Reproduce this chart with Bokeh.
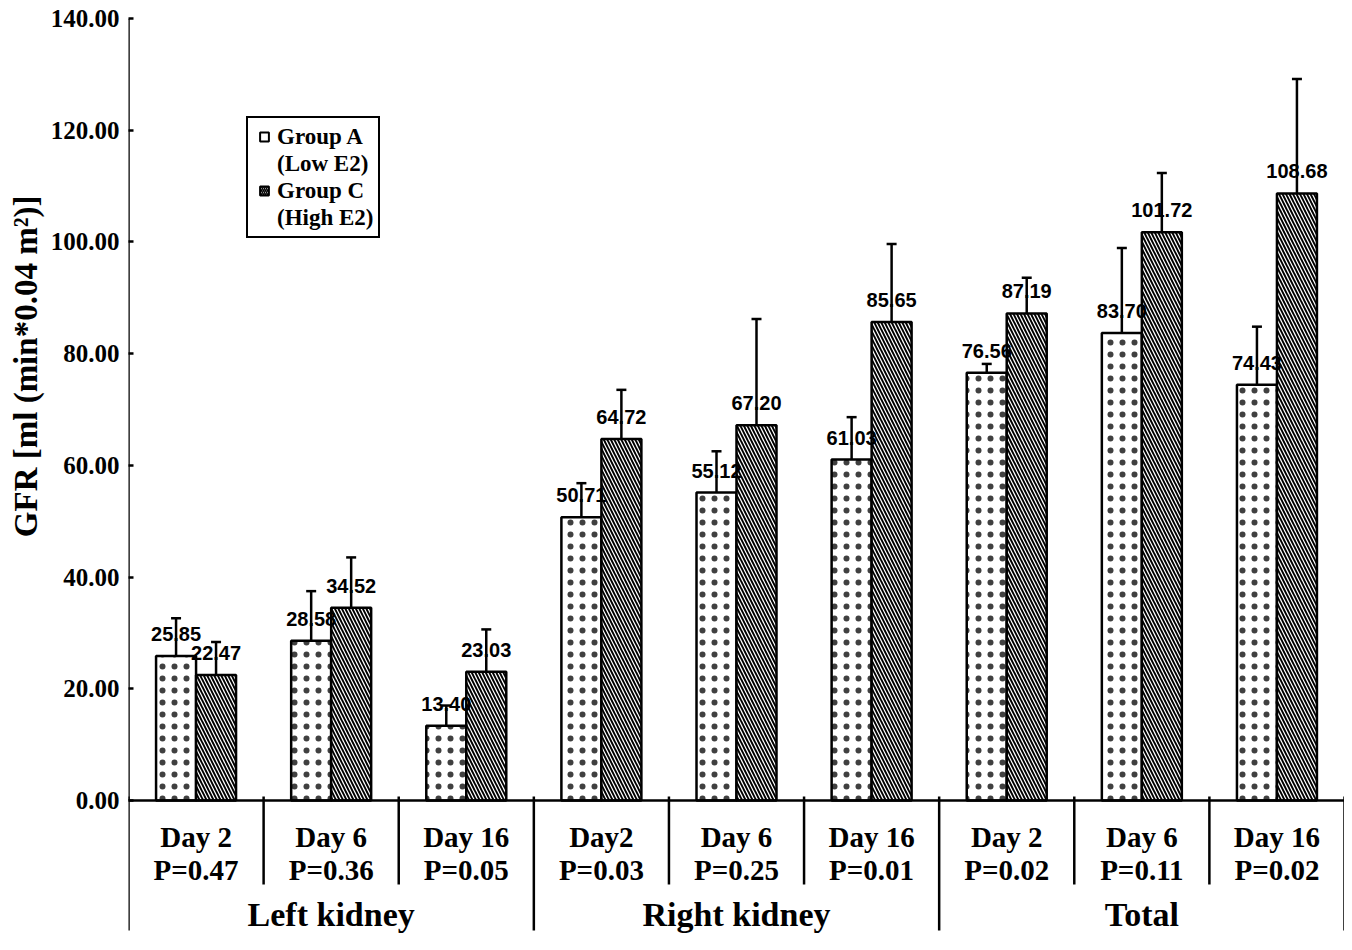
import math
from bokeh.plotting import figure
from bokeh.models import (FactorRange, Range1d, FixedTicker, NumeralTickFormatter,
                          ColumnDataSource, Legend, LegendItem, Title)
from bokeh.transform import dodge
from bokeh.core.properties import value
from bokeh.embed import file_html
from bokeh.resources import INLINE

# ---------------- data ----------------
groups = ["Left kidney", "Right kidney", "Total"]
days = ["Day 2", "Day 6", "Day 16", "Day2", "Day 6", "Day 16", "Day 2", "Day 6", "Day 16"]
p_values = ["P=0.47", "P=0.36", "P=0.05", "P=0.03", "P=0.25", "P=0.01", "P=0.02", "P=0.11", "P=0.02"]
group_a = [25.85, 28.58, 13.40, 50.71, 55.12, 61.03, 76.56, 83.70, 74.43]
group_a_err = [6.8, 8.9, 3.6, 6.1, 7.4, 7.6, 1.6, 15.2, 10.4]
group_c = [22.47, 34.52, 23.03, 64.72, 67.20, 85.65, 87.19, 101.72, 108.68]
group_c_err = [5.9, 9.0, 7.6, 8.8, 19.0, 14.0, 6.4, 10.6, 20.5]
legend_labels = ["Group A", "(Low E2)", "Group C", "(High E2)"]
y_ticks = [0, 20, 40, 60, 80, 100, 120, 140]
y_title = "GFR [ml (min*0.04 m\u00b2)]"

# ---------------- layout constants ----------------
W, H = 1344, 946
LEFT, TOP, BOTTOM = 128, 18, 0
ZERO_PX = 800
YMAX = y_ticks[-1]
ppu = (ZERO_PX - TOP) / YMAX
frame_bottom = H - BOTTOM
y_start = -(frame_bottom - ZERO_PX) / ppu


def px(n):
    return n / ppu


per_group = len(days) // len(groups)
cat_group = [g for g in groups for _ in range(per_group)]
factors = list(zip(cat_group, days))

SERIF = "Liberation Serif"
SANS = "Liberation Sans"

p = figure(x_range=FactorRange(*factors, factor_padding=0, group_padding=0,
                               subgroup_padding=0, range_padding=0),
           y_range=Range1d(y_start, YMAX),
           width=W, height=H, x_axis_location=None,
           min_border_left=LEFT, min_border_right=0, min_border_top=TOP,
           min_border_bottom=BOTTOM, output_backend="svg", toolbar_location=None)
p.outline_line_color = None
p.grid.grid_line_color = None
p.background_fill_color = "white"

ax = p.yaxis[0]
ax.ticker = FixedTicker(ticks=y_ticks)
ax.formatter = NumeralTickFormatter(format="0.00")
ax.axis_line_color = None
ax.major_tick_in = 5
ax.major_tick_out = 0
ax.minor_tick_line_color = None
ax.major_tick_line_width = 2.5
ax.major_tick_line_color = "black"
ax.major_label_standoff = 9
ax.major_label_text_font = SERIF
ax.major_label_text_font_style = "bold"
ax.major_label_text_font_size = "25px"
ax.major_label_text_color = "black"

src = ColumnDataSource(dict(
    cat=factors,
    a=group_a, c=group_c,
    a_mid=[v / 2 for v in group_a],
    c_mid=[v / 2 for v in group_c],
    a_top=[v + e for v, e in zip(group_a, group_a_err)],
    c_top=[v + e for v, e in zip(group_c, group_c_err)],
    a_lab=[f"{v:.2f}" for v in group_a],
    c_lab=[f"{v:.2f}" for v in group_c],
    day=days, pv=p_values,
))

OFF = 0.148
BW = 0.296
CAP = 0.037

# legend proxies (hidden under the bars, zero size)
ra = p.scatter(x=dodge("cat", -OFF, range=p.x_range), y="a_mid", source=src, size=0,
               marker="square", fill_color="white", line_color="black", line_width=2)
rc = p.scatter(x=dodge("cat", OFF, range=p.x_range), y="c_mid", source=src, size=0,
               marker="square", fill_color="white", line_color="black", line_width=2,
               hatch_pattern="\\", hatch_scale=4, hatch_weight=1.6, hatch_color="black")
blank = p.scatter(x=dodge("cat", OFF, range=p.x_range), y="c_mid", source=src, size=0,
                  marker="square", fill_alpha=0, line_alpha=0)

p.vbar(x=dodge("cat", -OFF, range=p.x_range), top="a", bottom=0, width=BW, source=src,
       fill_color="white", line_color="black", line_width=2.5,
       hatch_pattern=".", hatch_scale=12, hatch_weight=0.5, hatch_color="black",
       hatch_alpha=0.75)
p.vbar(x=dodge("cat", OFF, range=p.x_range), top="c", bottom=0, width=BW, source=src,
       fill_color="white", line_color="black", line_width=2.5,
       hatch_pattern="\\", hatch_scale=7, hatch_weight=1.9, hatch_color="black")

for key, off in [("a", -OFF), ("c", OFF)]:
    p.text(x=dodge("cat", off, range=p.x_range), y=key, text=key + "_lab", source=src,
           y_offset=-22, text_align="center", text_baseline="alphabetic",
           text_font=value(SANS), text_font_style="bold", text_font_size="20px",
           text_color="black")
    p.segment(x0=dodge("cat", off, range=p.x_range), y0=key,
              x1=dodge("cat", off, range=p.x_range), y1=key + "_top",
              source=src, line_color="black", line_width=2.5)
    p.segment(x0=dodge("cat", off - CAP, range=p.x_range), y0=key + "_top",
              x1=dodge("cat", off + CAP, range=p.x_range), y1=key + "_top",
              source=src, line_color="black", line_width=2.5)

# axes lines and separators
n = len(days)
bounds = list(range(n + 1))
gb = [b for b in bounds if b % per_group == 0]
db = [b for b in bounds if b % per_group != 0]
p.segment(x0=[0], y0=[0], x1=[0], y1=[YMAX], line_color="black", line_width=2.5)
p.segment(x0=[0], y0=[0], x1=[n], y1=[0], line_color="black", line_width=2.5)
p.segment(x0=gb, y0=[px(4)] * len(gb), x1=gb, y1=[-px(130)] * len(gb),
          line_color="black", line_width=2.5)
p.segment(x0=db, y0=[px(4)] * len(db), x1=db, y1=[-px(84)] * len(db),
          line_color="black", line_width=2.5)

# category labels
p.text(x="cat", y=0, text="day", source=src, y_offset=36, text_align="center",
       text_baseline="alphabetic", text_font=value(SERIF), text_font_style="bold",
       text_font_size="29px", text_color="black")
p.text(x="cat", y=0, text="pv", source=src, y_offset=69, text_align="center",
       text_baseline="alphabetic", text_font=value(SERIF), text_font_style="bold",
       text_font_size="29px", text_color="black")
p.text(x=groups, y=[0] * len(groups), text=groups, y_offset=114, text_align="center",
       text_baseline="alphabetic", text_font=value(SERIF), text_font_style="bold",
       text_font_size="34px", text_color="black")

# y title
p.add_layout(Title(text=y_title, align="right", offset=177, standoff=8,
                   text_font=SERIF, text_font_style="bold", text_font_size="33px",
                   text_color="black"), "left")

# legend
legend = Legend(items=[LegendItem(label=legend_labels[0], renderers=[ra]),
                       LegendItem(label=legend_labels[1], renderers=[blank]),
                       LegendItem(label=legend_labels[2], renderers=[rc]),
                       LegendItem(label=legend_labels[3], renderers=[blank])],
                location=(118, 708), orientation="vertical",
                border_line_color="black", border_line_width=2.5, border_line_alpha=1,
                background_fill_color="white", background_fill_alpha=1,
                padding=5, spacing=0, margin=0, label_height=27, glyph_height=27,
                glyph_width=22, label_standoff=2,
                label_text_font=SERIF, label_text_font_style="bold",
                label_text_font_size="23px", label_text_color="black")
p.add_layout(legend)

open("out.html", "w").write(file_html(p, INLINE))
